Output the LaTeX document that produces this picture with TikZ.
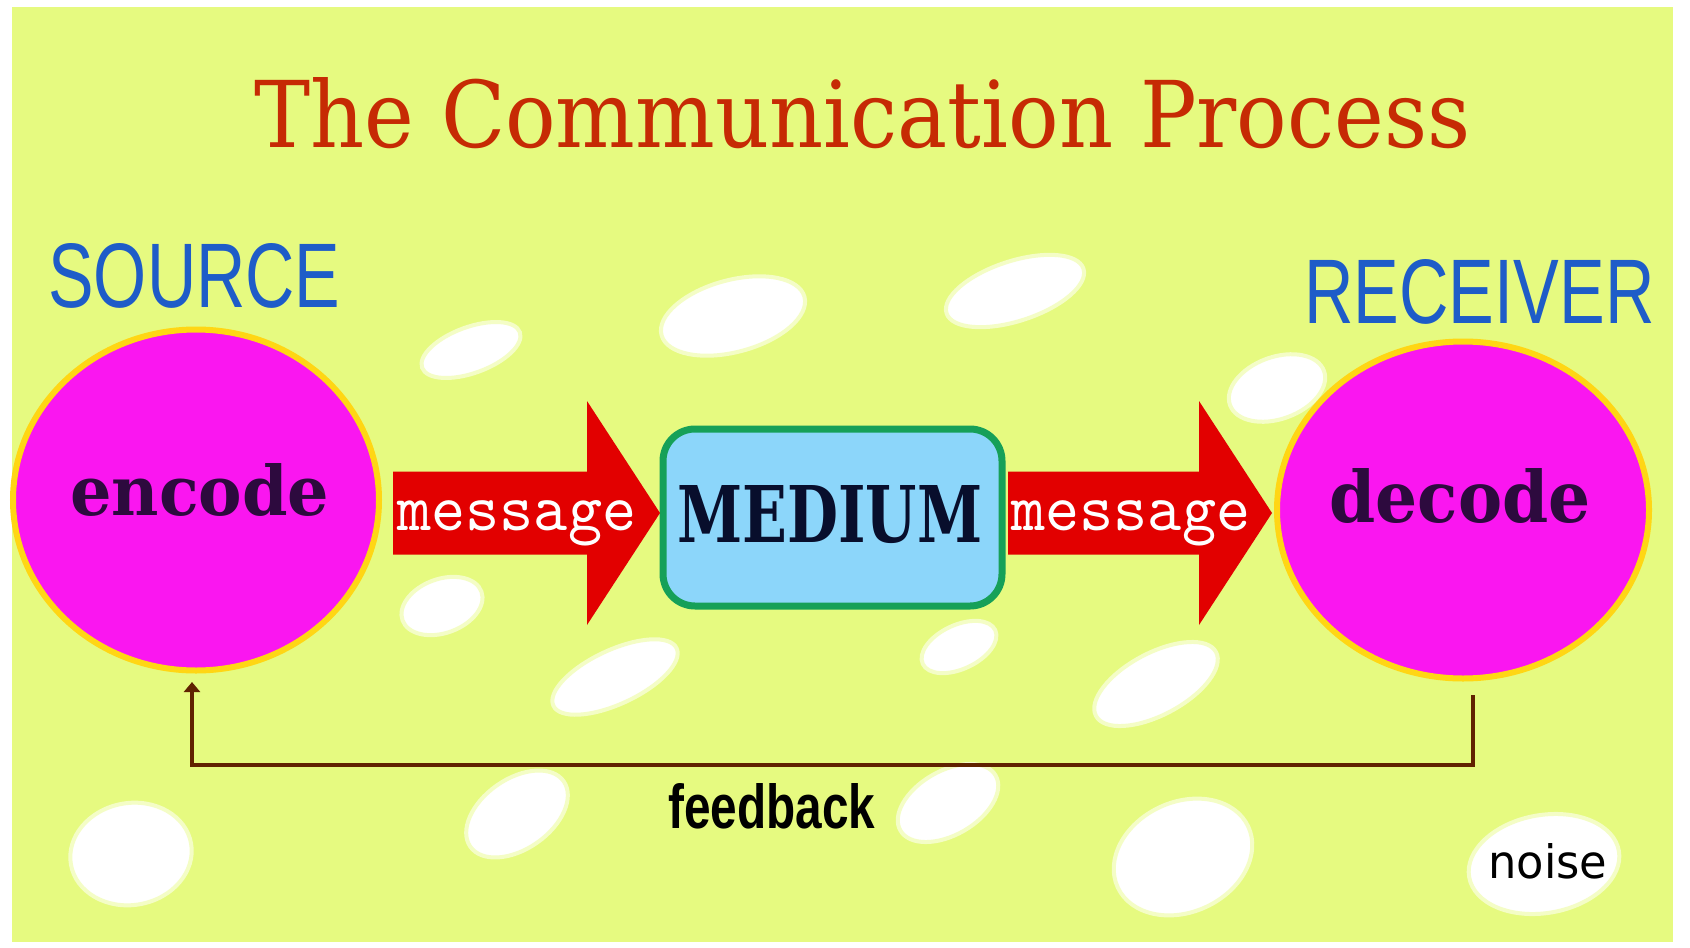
\documentclass[tikz,border=0pt]{standalone}
\usepackage{fontspec}
\usepackage{graphicx}
\usetikzlibrary{calc,shapes.geometric,arrows.meta}
\setmainfont{DejaVu Serif}
\newfontfamily\titlefont{DejaVu Serif}
\newfontfamily\arialfont{Liberation Sans}
\newfontfamily\djsans{DejaVu Sans}
\definecolor{bgyellow}{RGB}{230,250,128}
\definecolor{titlered}{RGB}{198,42,4}
\definecolor{srcblue}{RGB}{30,92,200}
\definecolor{ballmag}{RGB}{250,22,240}
\definecolor{rimgold}{RGB}{255,214,20}
\definecolor{arrowred}{RGB}{226,0,0}
\definecolor{medblue}{RGB}{140,214,250}
\definecolor{medgreen}{RGB}{22,160,88}
\definecolor{inkpurple}{RGB}{45,10,62}
\definecolor{inknavy}{RGB}{8,14,44}
\definecolor{fbbrown}{RGB}{96,34,0}
\tikzset{
  ball/.style={ellipse, fill=ballmag, draw=rimgold, line width=3pt, inner sep=0pt},
  medbox/.style={rectangle, rounded corners=16pt, fill=medblue, draw=medgreen, line width=3.5pt, inner sep=0pt},
  txt/.style={inner sep=0pt, anchor=base west},
  blob/.style={ellipse, fill=white, draw=white!55!bgyellow, line width=2pt, inner sep=0pt},
  bigarrow/.style={fill=arrowred},
  fbline/.style={draw=fbbrown, line width=2pt, -{Triangle[width=8pt,length=5pt]}},
}
\begin{document}
\begin{tikzpicture}[x=0.5pt,y=-0.5pt]
\useasboundingbox (0,0) rectangle (1690,947);
\fill[white] (0,0) rectangle (1690,947);
\fill[bgyellow] (12,7) rectangle (1673,942);
% noise blobs
\node[blob, minimum width=52pt, minimum height=23pt, rotate=20] (n1) at (471,350) {};
\node[blob, minimum width=74pt, minimum height=36pt, rotate=15] (n2) at (733,316) {};
\node[blob, minimum width=72pt, minimum height=30pt, rotate=18] (n3) at (1015,291) {};
\node[blob, minimum width=50pt, minimum height=31pt, rotate=20] (n4) at (1277,388) {};
\node[blob, minimum width=42pt, minimum height=27pt, rotate=20] (n5) at (442,606) {};
\node[blob, minimum width=68pt, minimum height=27pt, rotate=25] (n6) at (615,677) {};
\node[blob, minimum width=40pt, minimum height=22pt, rotate=25] (n7) at (959,647) {};
\node[blob, minimum width=68pt, minimum height=31pt, rotate=28] (n8) at (1156,684) {};
\node[blob, minimum width=61pt, minimum height=51pt, rotate=10] (n9) at (131,854) {};
\node[blob, minimum width=57pt, minimum height=35pt, rotate=35] (n10) at (517,814) {};
\node[blob, minimum width=55pt, minimum height=32pt, rotate=30] (n11) at (948,803) {};
\node[blob, minimum width=72pt, minimum height=55pt, rotate=25] (n12) at (1183,857) {};
\node[blob, minimum width=76pt, minimum height=49pt, rotate=10] (n13) at (1544,864) {};
% title
\node[txt, text=titlered] (title) at (254,148) {\resizebox{608pt}{35pt}{\titlefont The Communication Process}};
% labels
\node[txt, text=srcblue] (src) at (48,307) {\resizebox{146pt}{32pt}{\arialfont SOURCE}};
\node[txt, text=srcblue] (rcv) at (1304,323) {\resizebox{175pt}{32pt}{\arialfont RECEIVER}};
% balls and medium
\node[ball, minimum width=183pt, minimum height=170.5pt] (enc) at (196,500) {};
\node[ball, minimum width=186pt, minimum height=168.5pt] (dec) at (1463,510) {};
\node[medbox, minimum width=169.5pt, minimum height=88.5pt] (med) at (832.5,517.5) {};
\node[txt, text=inkpurple] (enct) at (70,515) {\resizebox{129.5pt}{26pt}{\bfseries encode}};
\node[txt, text=inkpurple] (dect) at (1329,522) {\resizebox{130.5pt}{27pt}{\bfseries decode}};
\node[txt, text=inknavy] (medt) at (677,542) {\resizebox{152.5pt}{28.5pt}{\bfseries MEDIUM}};
% big arrows
\coordinate (a1s) at (393,513);
\coordinate (a1e) at (660,513);
\coordinate (a2s) at (1008,513);
\coordinate (a2e) at (1272,513);
\fill[bigarrow] let \p1=(a1s), \p2=(a1e) in
  (\x1,\y1+20.75pt) -- (\x2-36.5pt,\y1+20.75pt) -- (\x2-36.5pt,\y1+56pt) -- (\x2,\y2)
  -- (\x2-36.5pt,\y1-56pt) -- (\x2-36.5pt,\y1-20.75pt) -- (\x1,\y1-20.75pt) -- cycle;
\fill[bigarrow] let \p1=(a2s), \p2=(a2e) in
  (\x1,\y1+20.75pt) -- (\x2-36.5pt,\y1+20.75pt) -- (\x2-36.5pt,\y1+56pt) -- (\x2,\y2)
  -- (\x2-36.5pt,\y1-56pt) -- (\x2-36.5pt,\y1-20.75pt) -- (\x1,\y1-20.75pt) -- cycle;
\node[txt, text=white] (m1) at (397,530) {\resizebox{119.5pt}{15pt}{\ttfamily message}};
\node[txt, text=white] (m2) at (1011,530) {\resizebox{119.5pt}{15pt}{\ttfamily message}};
% feedback
\coordinate (fbs) at (1473,695);
\coordinate (fbc) at (1473,765);
\coordinate (fbe) at (192,682);
\draw[fbline] (fbs) -- (fbc) -| (fbe);
\node[txt, text=black] (fbt) at (668,828) {\resizebox{103.5pt}{22.5pt}{\arialfont\bfseries feedback}};
\node[txt, text=black] (noise) at (1488,878) {\resizebox{59.5pt}{17.5pt}{\djsans noise}};
\end{tikzpicture}
\end{document}
